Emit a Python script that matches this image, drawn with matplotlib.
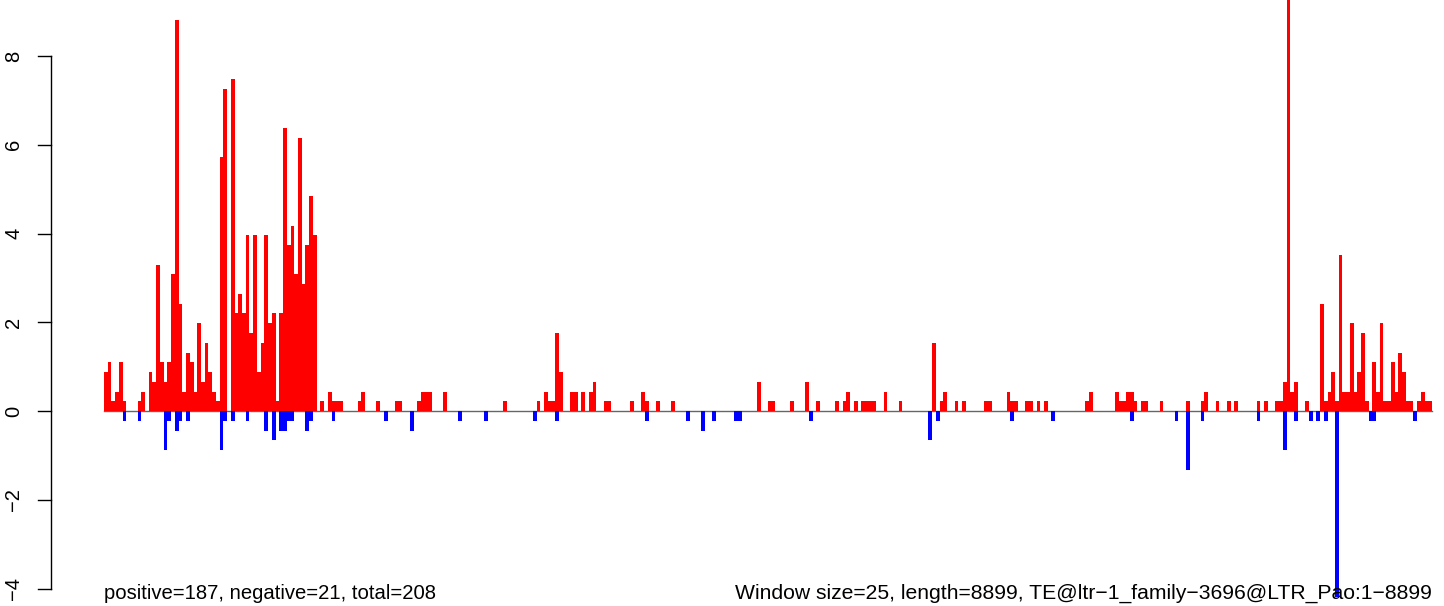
import matplotlib.pyplot as plt
import numpy as np

# counts per 25-bp window (1 count = 0.22 on the y axis), 356 windows
unit = 0.22
pos_counts = [
    4, 5, 1, 2, 5, 1, 0, 0, 0, 1, 2, 0, 4, 3, 15, 5, 3, 5, 14, 40,
    11, 2, 6, 5, 2, 9, 3, 7, 4, 2, 1, 26, 33, 0, 34, 10, 12, 10, 18, 8,
    18, 4, 7, 18, 9, 10, 1, 10, 29, 17, 19, 14, 28, 13, 17, 22, 18, 0, 1, 0,
    2, 1, 1, 1, 0, 0, 0, 0, 1, 2, 0, 0, 0, 1, 0, 0, 0, 0, 1, 1,
    0, 0, 0, 0, 1, 2, 2, 2, 0, 0, 0, 2, 0, 0, 0, 0, 0, 0, 0, 0,
    0, 0, 0, 0, 0, 0, 0, 1, 0, 0, 0, 0, 0, 0, 0, 0, 1, 0, 2, 1,
    1, 8, 4, 0, 0, 2, 2, 0, 2, 0, 2, 3, 0, 0, 1, 1, 0, 0, 0, 0,
    0, 1, 0, 0, 2, 1, 0, 0, 1, 0, 0, 0, 1, 0, 0, 0, 0, 0, 0, 0,
    0, 0, 0, 0, 0, 0, 0, 0, 0, 0, 0, 0, 0, 0, 0, 3, 0, 0, 1, 1,
    0, 0, 0, 0, 1, 0, 0, 0, 3, 0, 0, 1, 0, 0, 0, 0, 1, 0, 1, 2,
    0, 1, 0, 1, 1, 1, 1, 0, 0, 2, 0, 0, 0, 1, 0, 0, 0, 0, 0, 0,
    0, 0, 7, 0, 1, 2, 0, 0, 1, 0, 1, 0, 0, 0, 0, 0, 1, 1, 0, 0,
    0, 0, 2, 1, 1, 0, 0, 1, 1, 0, 1, 0, 1, 0, 0, 0, 0, 0, 0, 0,
    0, 0, 0, 1, 2, 0, 0, 0, 0, 0, 0, 2, 1, 1, 2, 2, 1, 0, 1, 1,
    0, 0, 0, 1, 0, 0, 0, 0, 0, 0, 1, 0, 0, 0, 1, 2, 0, 0, 1, 0,
    0, 1, 0, 1, 0, 0, 0, 0, 0, 1, 0, 1, 0, 0, 1, 1, 3, 45, 2, 3,
    0, 0, 1, 0, 0, 0, 11, 1, 2, 4, 1, 16, 2, 2, 9, 2, 4, 8, 1, 0,
    5, 2, 9, 1, 1, 5, 2, 6, 4, 1, 1, 0, 1, 2, 1, 1,
]
neg_counts = [
    0, 0, 0, 0, 0, 1, 0, 0, 0, 1, 0, 0, 0, 0, 0, 0, 4, 1, 0, 2,
    1, 0, 1, 0, 0, 0, 0, 0, 0, 0, 0, 4, 1, 0, 1, 0, 0, 0, 1, 0,
    0, 0, 0, 2, 0, 3, 0, 2, 2, 1, 1, 0, 0, 0, 2, 1, 0, 0, 0, 0,
    0, 1, 0, 0, 0, 0, 0, 0, 0, 0, 0, 0, 0, 0, 0, 1, 0, 0, 0, 0,
    0, 0, 2, 0, 0, 0, 0, 0, 0, 0, 0, 0, 0, 0, 0, 1, 0, 0, 0, 0,
    0, 0, 1, 0, 0, 0, 0, 0, 0, 0, 0, 0, 0, 0, 0, 1, 0, 0, 0, 0,
    0, 1, 0, 0, 0, 0, 0, 0, 0, 0, 0, 0, 0, 0, 0, 0, 0, 0, 0, 0,
    0, 0, 0, 0, 0, 1, 0, 0, 0, 0, 0, 0, 0, 0, 0, 0, 1, 0, 0, 0,
    2, 0, 0, 1, 0, 0, 0, 0, 0, 1, 1, 0, 0, 0, 0, 0, 0, 0, 0, 0,
    0, 0, 0, 0, 0, 0, 0, 0, 0, 1, 0, 0, 0, 0, 0, 0, 0, 0, 0, 0,
    0, 0, 0, 0, 0, 0, 0, 0, 0, 0, 0, 0, 0, 0, 0, 0, 0, 0, 0, 0,
    0, 3, 0, 1, 0, 0, 0, 0, 0, 0, 0, 0, 0, 0, 0, 0, 0, 0, 0, 0,
    0, 0, 0, 1, 0, 0, 0, 0, 0, 0, 0, 0, 0, 0, 1, 0, 0, 0, 0, 0,
    0, 0, 0, 0, 0, 0, 0, 0, 0, 0, 0, 0, 0, 0, 0, 1, 0, 0, 0, 0,
    0, 0, 0, 0, 0, 0, 0, 1, 0, 0, 6, 0, 0, 0, 1, 0, 0, 0, 0, 0,
    0, 0, 0, 0, 0, 0, 0, 0, 0, 1, 0, 0, 0, 0, 0, 0, 4, 0, 0, 1,
    0, 0, 0, 1, 0, 1, 0, 1, 0, 0, 19, 0, 0, 0, 0, 0, 0, 0, 0, 1,
    1, 0, 0, 0, 0, 0, 0, 0, 0, 0, 0, 1, 0, 0, 0, 0,
]
y_ticks = [-4, -2, 0, 2, 4, 6, 8]
left_note = 'positive=187, negative=21, total=208'
right_note = 'Window size=25, length=8899, TE@ltr\u22121_family\u22123696@LTR_Pao:1\u22128899'

plt.rcParams['font.family'] = ['Liberation Sans', 'DejaVu Sans']

pos = np.array(pos_counts) * unit
neg = -np.array(neg_counts) * unit
x = np.arange(len(pos))

fig = plt.figure(figsize=(14.44, 6.06), dpi=100)
ax = fig.add_axes([0, 0, 1, 1])
ax.axis('off')

# pixel layout: first bar at 104px, 3.73px per window, 0 at y=411
bw = 3.7303
ax.set_xlim(-104 / bw, (1444 - 104) / bw)
ax.set_ylim(-4.39, 9.26)

ax.plot([0, len(pos)], [0, 0], color='#666666', lw=1, zorder=1)
ax.bar(x, pos, width=1, align='edge', color='red', linewidth=0,
       antialiased=False, zorder=2)
ax.bar(x, neg, width=1, align='edge', color='blue', linewidth=0,
       antialiased=False, zorder=2)

# R-style y axis
tr = ax.get_yaxis_transform()
ax.plot([50.5 / 1444] * 2, [y_ticks[0], y_ticks[-1]], color='black', lw=1,
        transform=tr, clip_on=False)
for t in y_ticks:
    ax.plot([37.5 / 1444, 50.5 / 1444], [t, t], color='black', lw=1,
            transform=tr, clip_on=False)
    ax.text(14 / 1444, t, str(t).replace('-', '\u2212'), rotation=90,
            ha='center', va='center', fontsize=14.5, transform=tr)

# notes along the bottom
ax.text(0, 1 - 599 / 606, left_note, ha='left', va='baseline', fontsize=14.6,
        transform=ax.get_xaxis_transform(), zorder=5)
ax.text(len(pos), 1 - 599 / 606, right_note, ha='right', va='baseline',
        fontsize=15.2, transform=ax.get_xaxis_transform(), zorder=5)

fig.savefig('out.png', dpi=100)
